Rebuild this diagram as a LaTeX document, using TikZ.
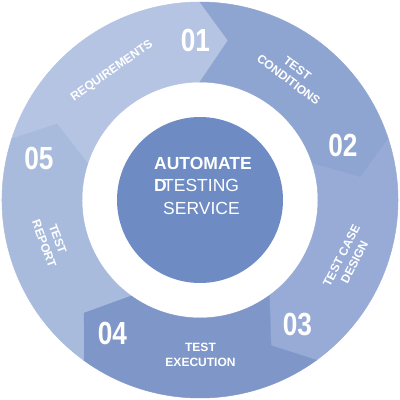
\documentclass[tikz,border=0pt]{standalone}
\usepackage{fontspec}
\setmainfont{Liberation Sans}
\usepackage{graphicx}
\definecolor{segA}{HTML}{B4C4E2}
\definecolor{segB}{HTML}{8FA5D1}
\definecolor{segC}{HTML}{97ABD6}
\definecolor{segD}{HTML}{7F96C9}
\definecolor{segE}{HTML}{A9BBDD}
\definecolor{core}{HTML}{6E8CC3}
\newcommand\ringseg[3]{%
  \fill[#3, draw=#3, line width=0.5pt]
    (#1:198) arc[start angle=#1, end angle=#2, radius=198]
    -- ({#2-10}:162) -- (#2:118)
    arc[start angle=#2, end angle=#1, radius=118]
    -- ({#1-10}:162) -- cycle;}
\tikzset{
  lbl/.style={text=white, font=\fontsize{12}{14.5}\selectfont\bfseries, align=center, inner sep=0pt},
  num/.style={text=white, font=\fontsize{32}{32}\selectfont\bfseries, inner sep=0pt},
  ctr/.style={text=white, inner sep=0pt}
}
\begin{document}
\begin{tikzpicture}[x=1pt,y=1pt]
\useasboundingbox (-200,-200) rectangle (200,200);
\fill[white] (-200,-200) rectangle (200,200);
\ringseg{162}{90}{segA}
\ringseg{90}{18}{segB}
\ringseg{18}{-54}{segC}
\ringseg{-54}{-126}{segD}
\ringseg{-126}{-198}{segE}
\fill[core] (0,0) circle[radius=83];
% numbers
\node[num] (n1) at (-4.5,159.5) {\scalebox{0.82}[1]{01}};
\node[num] (n2) at (143,55) {\scalebox{0.82}[1]{02}};
\node[num] (n3) at (97.5,-125) {\scalebox{0.82}[1]{03}};
\node[num] (n4) at (-87.5,-133.5) {\scalebox{0.82}[1]{04}};
\node[num] (n5) at (-161,41.5) {\scalebox{0.82}[1]{05}};
% labels
\node[lbl, rotate=35] (l1) at (-88,129) {REQUIREMENTS};
\node[lbl, rotate=-37] (l2) at (93,126) {TEST\\CONDITIONS};
\node[lbl, rotate=63] (l3) at (148,-59) {TEST CASE\\DESIGN};
\node[lbl] (l4) at (0.5,-155) {TEST\\EXECUTION};
\node[lbl, rotate=-70] (l5) at (-149,-41.5) {TEST\\REPORT};
% centre text
\node[ctr, anchor=base, font=\fontsize{17.5}{17.5}\selectfont\bfseries] (c1) at (3,31) {AUTOMATE};
\node[ctr, anchor=base west, font=\fontsize{17.5}{17.5}\selectfont] (c2) at (-37,9) {TESTING};
\node[ctr, anchor=base west, font=\fontsize{17.5}{17.5}\selectfont\bfseries] (c3) at (-46,9) {D};
\node[ctr, anchor=base, font=\fontsize{17.5}{17.5}\selectfont] (c4) at (1.5,-14) {SERVICE};
\end{tikzpicture}
\end{document}
